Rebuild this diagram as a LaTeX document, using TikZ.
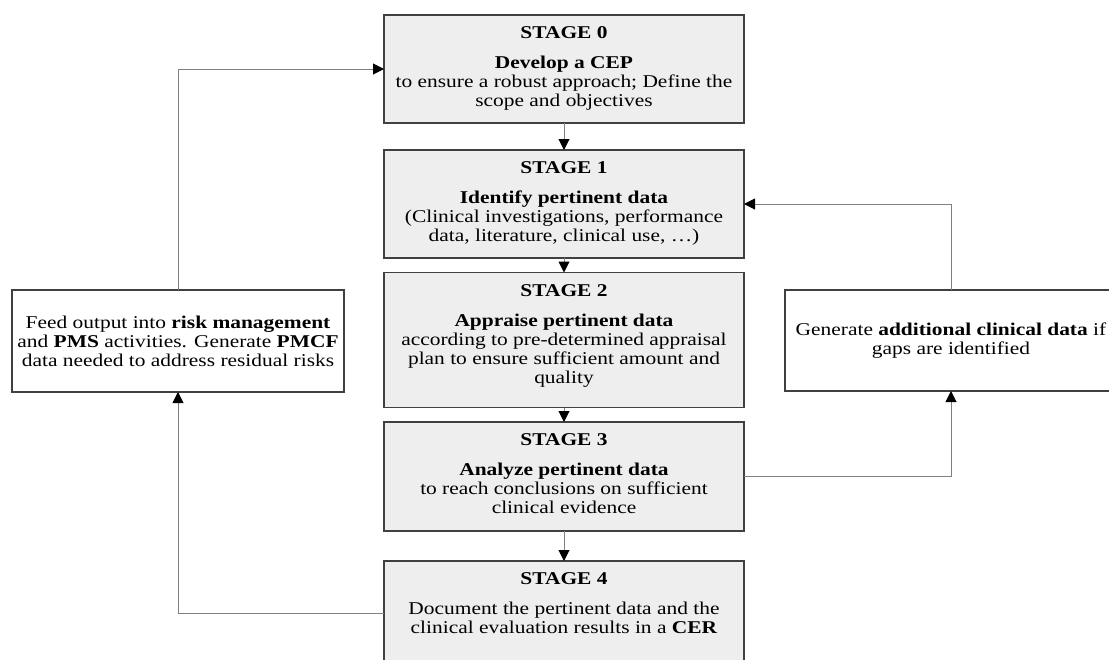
\documentclass[tikz,border=0pt]{standalone}
\usepackage{fontspec}
\setmainfont{Liberation Serif}[FakeStretch=1.19]
\usetikzlibrary{arrows.meta}

\definecolor{boxfill}{RGB}{238,238,238}
\definecolor{boxline}{RGB}{64,64,64}
\definecolor{linkline}{RGB}{128,128,128}

\tikzset{
  txt/.style={font=\fontsize{18}{19}\selectfont, align=center, inner sep=0pt},
  stagebox/.style={draw=boxline, line width=1.3pt, fill=boxfill,
    minimum width=360pt, inner sep=0pt, outer sep=0pt},
  sidebox/.style={draw=boxline, line width=1.3pt, fill=white,
    minimum width=332pt, inner sep=0pt, outer sep=0pt},
  stagetext/.style={txt, anchor=north},
  conn/.style={draw=linkline, line width=1pt,
    -{Triangle[length=11pt,width=11pt,color=black,fill=black]}},
}
% gap between the stage heading and the text below it
\newcommand{\headgap}{\\[11pt]}

\begin{document}
\begin{tikzpicture}[x=1pt,y=1pt]
\clip (0,0) rectangle (1109,-659);
\fill[white] (0,0) rectangle (1109,-659);

% Main column of stages
\node[stagebox, minimum height=108pt] (s0) at (564,-69) {};
\node[stagebox, minimum height=108pt] (s1) at (564,-204) {};
\node[stagebox, minimum height=135pt] (s2) at (564,-340) {};
\node[stagebox, minimum height=109pt] (s3) at (564,-476.5) {};
\node[stagebox, minimum height=104pt] (s4) at (564,-613) {};

\node[stagetext] (s0t) at ([yshift=-11pt]s0.north)
  {\textbf{STAGE 0}\headgap
   \textbf{Develop a CEP}\\
   to ensure a robust approach; Define the\\
   scope and objectives};
\node[stagetext] (s1t) at ([yshift=-11pt]s1.north)
  {\textbf{STAGE 1}\headgap
   \textbf{Identify pertinent data}\\
   (Clinical investigations, performance\\
   data, literature, clinical use, …)};
\node[stagetext] (s2t) at ([yshift=-12pt]s2.north)
  {\textbf{STAGE 2}\headgap
   \textbf{Appraise pertinent data}\\
   according to pre-determined appraisal\\
   plan to ensure sufficient amount and\\
   quality};
\node[stagetext] (s3t) at ([yshift=-11pt]s3.north)
  {\textbf{STAGE 3}\headgap
   \textbf{Analyze pertinent data}\\
   to reach conclusions on sufficient\\
   clinical evidence};
\node[stagetext] (s4t) at ([yshift=-11pt]s4.north)
  {\textbf{STAGE 4}\headgap
   Document the pertinent data and the\\
   clinical evaluation results in a \textbf{CER}};

% Side boxes
\node[sidebox, minimum height=102pt] (lbox) at (178,-341) {};
\node[txt] (lboxt) at (lbox.center)
  {Feed output into \textbf{risk management}\\
   and \textbf{PMS} activities. Generate \textbf{PMCF}\\
   data needed to address residual risks};
\node[sidebox, minimum height=101pt] (rbox) at (951,-340.5) {};
\node[txt] (rboxt) at (rbox.center)
  {Generate \textbf{additional clinical data} if\\
   gaps are identified};

% Flow between stages
\draw[conn] (s0.south) -- (s1.north);
\draw[conn] (s1.south) -- (s2.north);
\draw[conn] (s2.south) -- (s3.north);
\draw[conn] (s3.south) -- (s4.north);

% Feedback loops
\draw[conn] (s3.east) -| (rbox.south);
\draw[conn] (rbox.north) |- (s1.east);
\draw[conn] (s4.west) -| (lbox.south);
\draw[conn] (lbox.north) |- (s0.west);
\end{tikzpicture}
\end{document}
